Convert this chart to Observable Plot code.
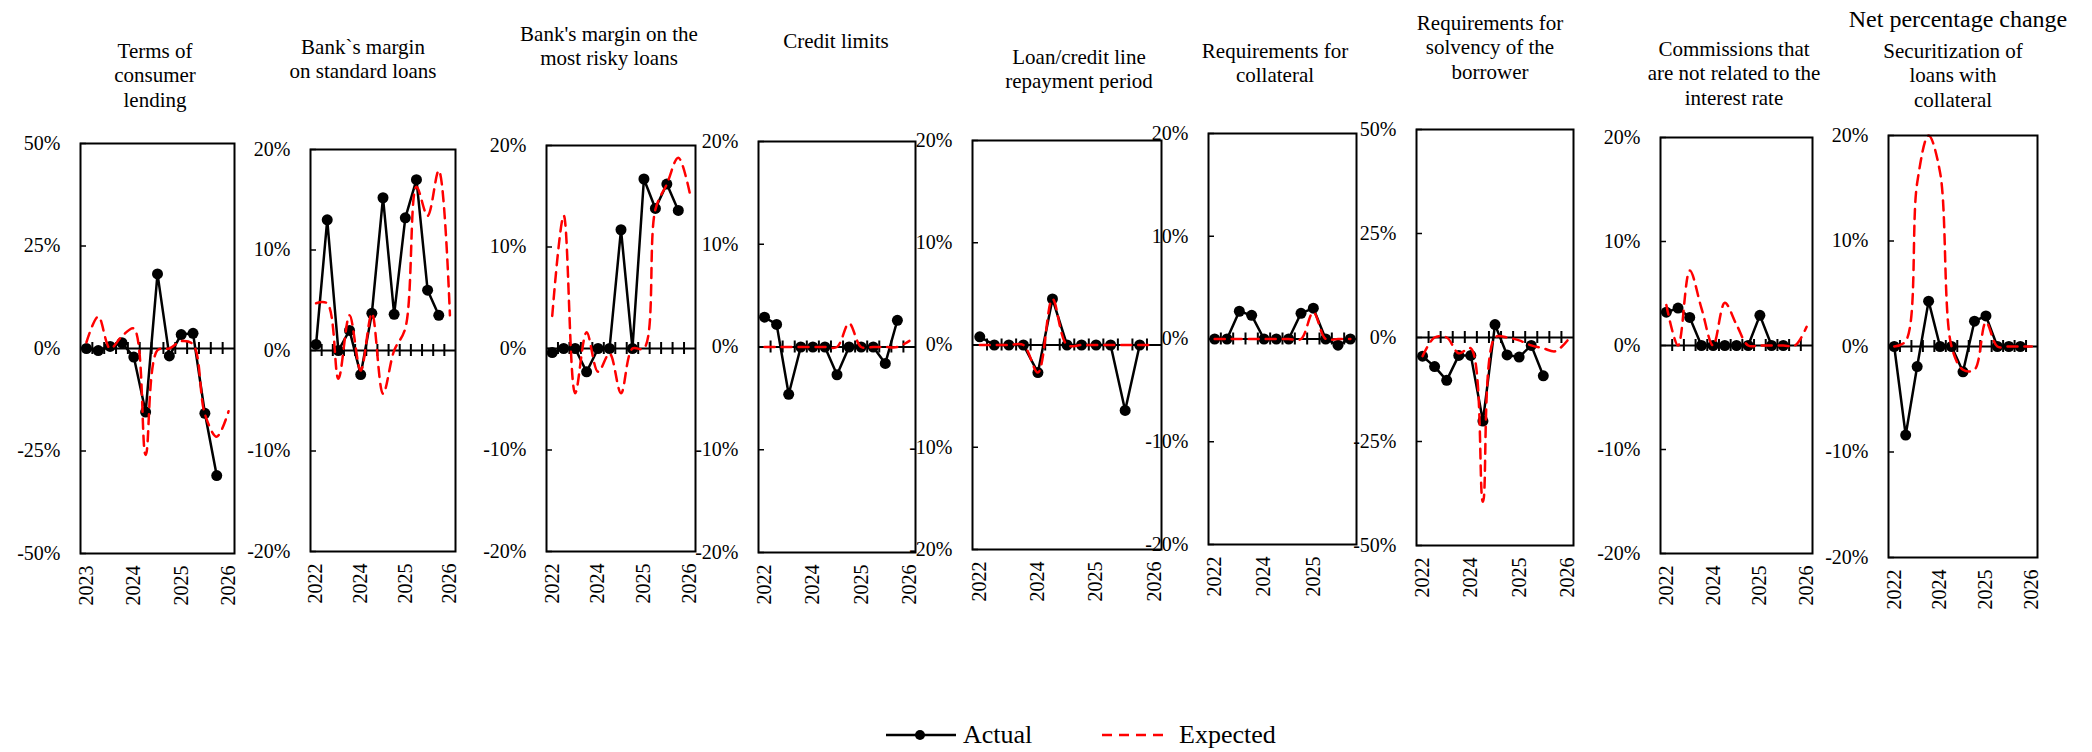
<!DOCTYPE html>
<html><head><meta charset="utf-8">
<script src="https://cdn.jsdelivr.net/npm/d3@7"></script>
<script src="https://cdn.jsdelivr.net/npm/@observablehq/plot@0.6"></script>
<style>
body{margin:0;background:#fff;}
#chart{position:relative;width:2092px;height:752px;overflow:hidden;background:#fff;font-family:"Liberation Serif","Times New Roman",serif;color:#000;}
.title{position:absolute;text-align:center;font-size:21px;line-height:24.5px;white-space:nowrap;transform:translateX(-50%);}
.panel{position:absolute;}
.legend{position:absolute;font-size:26px;white-space:nowrap;display:flex;align-items:center;}
</style>
</head><body>
<div id="chart"></div>
<script>
// ---------- data ----------
const titles = [
  ["Terms of","consumer","lending"],
  ["Bank`s margin","on standard loans"],
  ["Bank's margin on the","most risky loans"],
  ["Credit limits"],
  ["Loan/credit line","repayment period"],
  ["Requirements for","collateral"],
  ["Requirements for","solvency of the","borrower"],
  ["Commissions that","are not related to the","interest rate"],
  ["Securitization of","loans with","collateral"]
];
const topHeading = "Net percentage change";
const seriesNames = ["Actual","Expected"];

const years1 = ["2023","2024","2025","2026"];
const yearsStd = ["2022","2024","2025","2026"];
const years6 = ["2022","2024","2025"];

const ticks50 = [-50,-25,0,25,50];
const ticks20 = [-20,-10,0,10,20];

const actual1   = [0, -0.5, 0.5, 1.4, -2.1, -15.5, 18.2, -1.8, 3.4, 3.7, -15.8, -31];
const expected1 = [1.5, 7.8, 0, 3, 4.9, -26, -0.4, 0, 1.8, 1, -16, -21.5, -15.3];

const actual2   = [0.6, 13.0, 0, 2.0, -2.4, 3.7, 15.2, 3.6, 13.2, 17.0, 6.0, 3.5];
const expected2 = [4.7, 4.7, -2.8, 3.5, -2, 3.7, -4.3, 0, 2.2, 16.3, 13.4, 17.9, 3.5];

const actual3   = [-0.4, 0, 0, -2.3, 0, 0, 11.7, 0, 16.7, 13.8, 16.2, 13.6];
const expected3 = [3.2, 13.1, -4.4, 1.6, -2.3, -0.5, -4.4, 0, 0, 13.7, 16.2, 18.8, 15.3];

const actual4   = [2.9, 2.2, -4.6, 0, 0, 0, -2.7, 0, 0, 0, -1.6, 2.6];
const expected4 = [0, 0, 0, 0, 0, 0, 0, 2.3, 0, 0, 0, 0, 0.6];

const actual5   = [0.8, 0, 0, 0, -2.7, 4.5, 0, 0, 0, 0, -6.4, 0];
const expected5 = [0, 0, 0, 0, -2.7, 4.5, 0, 0, 0, 0, 0, 0, 0];

const actual6   = [0, 0, 2.7, 2.3, 0, 0, 0, 2.5, 3.0, 0, -0.6, 0];
const expected6 = [0, 0, 0, 0, 0, 0, 0, 0, 2.6, 0, 0, 0];

const actual7   = [-4.5, -7.0, -10.3, -4.3, -4.3, -20.1, 3.1, -4.2, -4.7, -1.9, -9.2];
const expected7 = [-4.5, 0, 0, -3.8, -2.6, -39.5, 0, 0, -0.7, -1.9, -2.6, -3.3, -0.7];

const actual8   = [3.2, 3.6, 2.7, 0, 0, 0, 0, 0, 2.9, 0, 0];
const expected8 = [3.9, 0, 7.2, 3.6, 0, 4.1, 2, 0, 0, 0, 0, 0, 1.8];

const actual9   = [0, -8.4, -1.9, 4.3, 0, 0, -2.4, 2.4, 2.9, 0, 0, 0];
const expected9 = [0, 0.5, 15.5, 20, 16.5, 0, -2.2, -2.2, 2.3, 0, 0, 0, 0];

const categoryCounts = [13,13,13,13,13,12,13,13,13];

// ---------- layout (frame edges, title anchor) ----------
const frames = [
  [80,234,143,553],[310,455,149,551],[546,695,145,551],[758,915,141,552],
  [972,1161,140,549],[1208,1356,133,544],[1416,1573,129,545],[1660,1812,137,553],[1888,2037,135,557]
];
const titlePos = [[155,51],[363,47],[609,34],[836,41],[1079,57],[1275,51],[1490,23],[1734,49],[1953,51]];

const panels = [
  {years:years1, ticks:ticks50, actual:actual1, expected:expected1},
  {years:yearsStd, ticks:ticks20, actual:actual2, expected:expected2},
  {years:yearsStd, ticks:ticks20, actual:actual3, expected:expected3},
  {years:yearsStd, ticks:ticks20, actual:actual4, expected:expected4},
  {years:yearsStd, ticks:ticks20, actual:actual5, expected:expected5},
  {years:years6,  ticks:ticks20, actual:actual6, expected:expected6},
  {years:yearsStd, ticks:ticks50, actual:actual7, expected:expected7},
  {years:yearsStd, ticks:ticks20, actual:actual8, expected:expected8},
  {years:yearsStd, ticks:ticks20, actual:actual9, expected:expected9}
];

const FONT = '"Liberation Serif","Times New Roman",serif';
const chart = document.getElementById("chart");
const mL = 80, mR = 10, mT = 10, mB = 75;

panels.forEach((p, k) => {
  const [L, R, T, B] = frames[k];
  const fw = R - L, fh = B - T;
  const n = categoryCounts[k];
  const yDom = [d3.min(p.ticks), d3.max(p.ticks)];
  const half = (yDom[1] - yDom[0]) * 6 / fh;
  const act = p.actual.map((v, i) => ({i, v}));
  const exp = p.expected.map((v, i) => ({i, v}));
  const bounds = d3.range(n - 1).map(i => i + 0.5);
  const labelIdx = p.years.map((_, j) => j * 4);
  const svg = Plot.plot({
    width: fw + mL + mR, height: fh + mT + mB,
    marginLeft: mL, marginRight: mR, marginTop: mT, marginBottom: mB,
    style: {background: "transparent", overflow: "visible", fontFamily: FONT, fontSize: "20px", color: "#000", maxWidth: "none"},
    x: {domain: [-0.5, n - 0.5]},
    y: {domain: yDom},
    marks: [
      Plot.axisY(p.ticks, {tickSize: 0, tickPadding: 20, tickFormat: d => `${d}%`, fontSize: 20, fill: "#000", label: null}),
      Plot.axisX(labelIdx, {tickSize: 0, tickPadding: 12, tickRotate: -90, tickFormat: (d, i) => p.years[i], fontSize: 20, fill: "#000", label: null}),
      Plot.ruleY(p.ticks, {stroke: "#000", strokeWidth: 1.5, insetRight: fw - 6}),
      Plot.ruleY([0], {stroke: "#000", strokeWidth: 2}),
      Plot.ruleX(bounds, {y1: -half, y2: half, stroke: "#000", strokeWidth: 2}),
      Plot.line(act, {x: "i", y: "v", stroke: "#000", strokeWidth: 2.5}),
      Plot.dot(act, {x: "i", y: "v", r: 5.5, fill: "#000"}),
      Plot.line(exp, {x: "i", y: "v", stroke: "#FF0000", strokeWidth: 2.5, strokeDasharray: "10,7", curve: "catmull-rom"}),
      Plot.frame({stroke: "#000", strokeWidth: 2})
    ]
  });
  const div = document.createElement("div");
  div.className = "panel";
  div.style.left = (L - mL) + "px";
  div.style.top = (T - mT) + "px";
  div.appendChild(svg);
  chart.appendChild(div);

  const t = document.createElement("div");
  t.className = "title";
  t.style.left = titlePos[k][0] + "px";
  t.style.top = (titlePos[k][1] - 12.25) + "px";
  t.innerHTML = titles[k].join("<br>");
  chart.appendChild(t);
});

// heading over the last panel
const h = document.createElement("div");
h.className = "title";
h.style.fontSize = "24px";
h.style.left = "1958px";
h.style.top = (19 - 12.25) + "px";
h.textContent = topHeading;
chart.appendChild(h);

// legend
function legendItem(x, name, dashed) {
  const d = document.createElement("div");
  d.className = "legend";
  d.style.left = x + "px";
  d.style.top = "719px";
  d.style.height = "32px";
  const sw = dashed
    ? `<svg width="64" height="20" style="margin-right:13px"><line x1="0" y1="10" x2="64" y2="10" stroke="#FF0000" stroke-width="2.5" stroke-dasharray="10,7"/></svg>`
    : `<svg width="70" height="20" style="margin-right:7px"><line x1="0" y1="10" x2="70" y2="10" stroke="#000" stroke-width="2.5"/><circle cx="34" cy="10" r="5" fill="#000"/></svg>`;
  d.innerHTML = sw + `<span>${name}</span>`;
  chart.appendChild(d);
}
legendItem(886, seriesNames[0], false);
legendItem(1102, seriesNames[1], true);
</script>
</body></html>
